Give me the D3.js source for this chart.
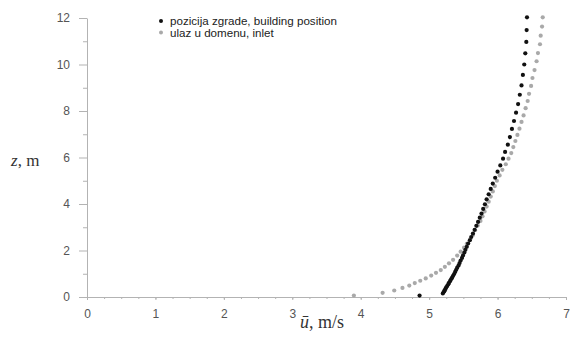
<!DOCTYPE html>
<html>
<head>
<meta charset="utf-8">
<script src="https://cdn.jsdelivr.net/npm/d3@7"></script>
<style>
  html, body { margin: 0; padding: 0; background: #fff; }
  .tick text { font-family: "Liberation Sans", Arial, sans-serif; font-size: 12px; fill: #555; }
  .axis path, .axis line { stroke: #b3b3b3; }
</style>
</head>
<body>
<div id="app"></div>
<script>
// ---------- DATA ----------

// building position profile (z in m, u in m/s)
const buildingZ = [0.06, 0.15, 0.20, 0.25, 0.30, 0.36, 0.42, 0.48, 0.55, 0.61, 0.68, 0.76, 0.83, 0.91, 0.99,
  1.08, 1.17, 1.26, 1.36, 1.46, 1.57, 1.68, 1.79, 1.91, 2.03, 2.16, 2.30, 2.44, 2.58, 2.73, 2.89,
  3.06, 3.23, 3.41, 3.59, 3.79, 3.99, 4.20, 4.42, 4.65, 4.88, 5.13, 5.39, 5.66, 5.95, 6.24, 6.55,
  6.88, 7.23, 7.57, 7.93, 8.30, 8.70, 9.10, 9.55, 10.00, 10.48, 10.97, 11.48, 12.03];
const buildingU = [4.86, 5.20, 5.21, 5.22, 5.23, 5.24, 5.25, 5.265, 5.28, 5.29, 5.305, 5.32, 5.335, 5.35, 5.365,
  5.38, 5.395, 5.41, 5.43, 5.445, 5.46, 5.48, 5.495, 5.515, 5.53, 5.55, 5.57, 5.595, 5.615, 5.64, 5.665,
  5.69, 5.715, 5.74, 5.765, 5.79, 5.815, 5.84, 5.87, 5.90, 5.93, 5.965, 6.00, 6.04, 6.08, 6.11, 6.15,
  6.18, 6.21, 6.24, 6.27, 6.30, 6.325, 6.35, 6.37, 6.39, 6.405, 6.42, 6.425, 6.43];

// inlet profile
const inletZ = [0.06, 0.18, 0.28, 0.39, 0.49, 0.60, 0.70, 0.80, 0.92, 1.04, 1.16, 1.30, 1.45, 1.60, 1.78,
  1.95, 2.12, 2.29, 2.48, 2.67, 2.87, 3.07, 3.27, 3.47, 3.68, 3.89, 4.10, 4.32, 4.54, 4.77, 5.00,
  5.23, 5.47, 5.71, 5.95, 6.19, 6.45, 6.71, 6.97, 7.24, 7.53, 7.81, 8.12, 8.43, 8.74, 9.08, 9.42,
  9.76, 10.14, 10.49, 10.87, 11.24, 11.63, 12.03];
const inletU = [3.90, 4.32, 4.49, 4.61, 4.71, 4.79, 4.87, 4.95, 5.03, 5.10, 5.17, 5.23, 5.29, 5.35, 5.41,
  5.46, 5.51, 5.55, 5.60, 5.64, 5.67, 5.71, 5.75, 5.78, 5.81, 5.84, 5.87, 5.90, 5.93, 5.96, 5.99,
  6.03, 6.07, 6.12, 6.16, 6.20, 6.23, 6.26, 6.29, 6.32, 6.35, 6.38, 6.41, 6.44, 6.46, 6.49, 6.51,
  6.54, 6.57, 6.59, 6.62, 6.63, 6.65, 6.66];

const xTicks = [0, 1, 2, 3, 4, 5, 6, 7];
const yTicks = [0, 2, 4, 6, 8, 10, 12];

const seriesNames = ["pozicija zgrade, building position", "ulaz u domenu, inlet"];
const seriesColors = ["#111111", "#a9a9a9"];


// ---------- LAYOUT ----------

const WIDTH = 573;
const HEIGHT = 338;
const MARGIN = {top: 18, right: 7, bottom: 41, left: 87};
const DOT_R = 2.1;


function main() {
    const svg = d3.select("#app")
        .append("svg")
        .attr("width", WIDTH)
        .attr("height", HEIGHT);

    const x = d3.scaleLinear()
        .domain([0, 7])
        .range([MARGIN.left, WIDTH - MARGIN.right]);

    const y = d3.scaleLinear()
        .domain([0, 12])
        .range([HEIGHT - MARGIN.bottom, MARGIN.top]);

    // ---------- axes ----------

    // minor ticks first, so the major axis draws over them
    svg.append("g")
        .attr("class", "axis")
        .attr("transform", `translate(0, ${y(0)})`)
        .call(d3.axisBottom(x).tickValues(d3.range(0, 28).map(i => i / 4)).tickSize(2).tickFormat(""))
        .call(g => g.select(".domain").remove());

    svg.append("g")
        .attr("class", "axis")
        .attr("transform", `translate(${x(0)}, 0)`)
        .call(d3.axisLeft(y).tickValues([1, 3, 5, 7, 9, 11]).tickSize(4).tickFormat(""))
        .call(g => g.select(".domain").remove());

    svg.append("g")
        .attr("class", "axis")
        .attr("transform", `translate(0, ${y(0)})`)
        .call(d3.axisBottom(x).tickValues(xTicks).tickFormat(d3.format("d"))
            .tickSize(3).tickSizeOuter(0).tickPadding(9));

    svg.append("g")
        .attr("class", "axis")
        .attr("transform", `translate(${x(0)}, 0)`)
        .call(d3.axisLeft(y).tickValues(yTicks).tickFormat(d3.format("d"))
            .tickSize(8).tickSizeOuter(0).tickPadding(9));

    // ---------- points ----------

    const inlet = inletZ.map((z, i) => ({z: z, u: inletU[i]}));
    const building = buildingZ.map((z, i) => ({z: z, u: buildingU[i]}));

    svg.append("g").selectAll("circle")
        .data(inlet)
        .enter()
        .append("circle")
        .attr("cx", d => x(d.u))
        .attr("cy", d => y(d.z))
        .attr("r", DOT_R)
        .attr("fill", seriesColors[1]);

    svg.append("g").selectAll("circle")
        .data(building)
        .enter()
        .append("circle")
        .attr("cx", d => x(d.u))
        .attr("cy", d => y(d.z))
        .attr("r", DOT_R)
        .attr("fill", seriesColors[0]);

    // ---------- legend ----------

    const legend = svg.append("g").attr("transform", "translate(161, 21)");
    seriesNames.forEach((name, i) => {
        legend.append("circle")
            .attr("cx", 0)
            .attr("cy", i * 11.5)
            .attr("r", 2)
            .attr("fill", seriesColors[i]);
        legend.append("text")
            .attr("x", 9)
            .attr("y", i * 11.5 + 4)
            .style("font-family", "'Liberation Sans', Arial, sans-serif")
            .style("font-size", "11.6px")
            .style("fill", "#222")
            .text(name);
    });

    // ---------- axis titles ----------

    const yTitle = svg.append("text")
        .attr("x", 11)
        .attr("y", 166)
        .style("font-family", "'Liberation Serif', 'Times New Roman', serif")
        .style("font-size", "17px")
        .style("fill", "#333");
    yTitle.append("tspan").style("font-style", "italic").text("z");
    yTitle.append("tspan").text(", m");

    const xTitle = svg.append("text")
        .attr("x", 300)
        .attr("y", 328)
        .style("font-family", "'Liberation Serif', 'Times New Roman', serif")
        .style("font-size", "18px")
        .style("fill", "#333");
    xTitle.append("tspan").style("font-style", "italic").text("ū");
    xTitle.append("tspan").text(", m/s");
}

main();
</script>
</body>
</html>
